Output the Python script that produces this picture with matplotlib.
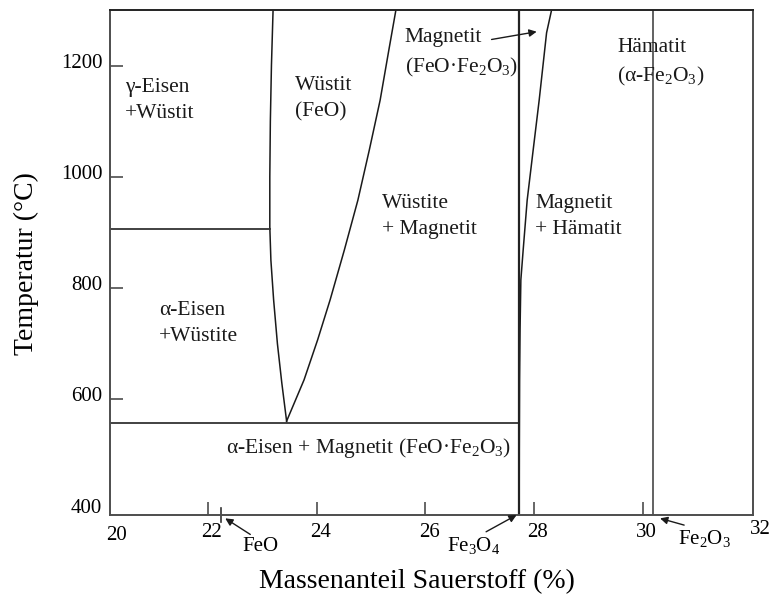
import matplotlib.pyplot as plt
import matplotlib.transforms as mtransforms

plt.rcParams['font.family'] = 'Liberation Serif'
plt.rcParams['mathtext.fontset'] = 'custom'
plt.rcParams['mathtext.rm'] = 'Liberation Serif'
plt.rcParams['mathtext.it'] = 'Liberation Serif:italic'

# Phasengrenzen im System Fe-O: (Massenanteil O in %, Temperatur in °C)
wuestit_links_x = [23.20, 23.17, 23.15, 23.14, 23.14, 23.16, 23.21, 23.28, 23.36, 23.45]
wuestit_links_t = [1300, 1200, 1100, 1000, 910, 850, 779, 700, 630, 560]
wuestit_rechts_x = [23.45, 23.77, 24.02, 24.25, 24.51, 24.76, 24.97, 25.17, 25.33, 25.46]
wuestit_rechts_t = [561, 635, 707, 779, 868, 958, 1048, 1138, 1228, 1300]
magnetit_rechts_x = [27.728, 27.730, 27.735, 27.744, 27.759, 27.801, 27.875, 27.985,
                     28.096, 28.232, 28.324]
magnetit_rechts_t = [392, 509, 635, 725, 815, 868, 958, 1048, 1138, 1259, 1300]

t_gamma_alpha = 907      # gamma/alpha-Eisen-Grenze
t_eutektoid = 557        # Zerfall des Wüstits
x_feo = 22.25
x_fe3o4 = 27.73
x_fe2o3 = 30.19

x_ticks = [22, 24, 26, 28, 30]
y_ticks = [400, 600, 800, 1000, 1200]

fig = plt.figure(figsize=(7.72, 5.99), dpi=100)
ax = fig.add_axes([0.1425, 0.1402, 0.8329, 0.8431])
ax.set_xlim(20.2, 32.03)
ax.set_ylim(392, 1300)

line_kw = dict(color='#1a1a1a', lw=1.1)
ax.plot(wuestit_links_x, wuestit_links_t, **line_kw)
ax.plot(wuestit_rechts_x, wuestit_rechts_t, **line_kw)
ax.plot(magnetit_rechts_x, magnetit_rechts_t, **line_kw)
ax.plot([20.2, 23.14], [t_gamma_alpha, t_gamma_alpha], color='#333333', lw=1.3)
ax.plot([20.2, x_fe3o4], [t_eutektoid, t_eutektoid], color='#333333', lw=1.3)
ax.axvline(x_fe3o4, color='#222222', lw=1.6)
ax.axvline(x_fe2o3, color='#555555', lw=1.3)

# Spines und Ticks
for s in ax.spines.values():
    s.set_color('#4d4d4d')
    s.set_linewidth(1.4)
ax.spines['top'].set_color('#222222')

ax.set_xticks(x_ticks)
ax.set_xticklabels([str(v) for v in x_ticks])
ax.set_yticks(y_ticks)
ax.set_yticklabels([str(v) for v in y_ticks])
ax.tick_params(axis='both', direction='in', length=9.4, width=1.2, color='#4d4d4d',
               labelsize=15, top=False, right=False)
ax.tick_params(axis='x', pad=6)
ax.tick_params(axis='y', pad=5.5)
ax.yaxis.get_major_ticks()[0].tick1line.set_visible(False)

dx = mtransforms.ScaledTranslation(4 / 100, 0, fig.dpi_scale_trans)
for lbl in ax.get_xticklabels():
    lbl.set_transform(lbl.get_transform() + dx)
dy = mtransforms.ScaledTranslation(0, 5 / 100, fig.dpi_scale_trans)
for lbl in ax.get_yticklabels():
    lbl.set_transform(lbl.get_transform() + dy)

tick_txt = dict(fontsize=15, ha='center', va='top',
                transform=mtransforms.blended_transform_factory(ax.transData, ax.transAxes))
ax.text(20.32, -0.022, '20', clip_on=False, **tick_txt)
ax.text(32.16, -0.009, '32', clip_on=False, **tick_txt)

ax.set_xlabel('Massenanteil Sauerstoff (%)', fontsize=20)
ax.xaxis.set_label_coords(0.477, -0.108)
ax.set_ylabel('Temperatur (°C)', fontsize=20)
ax.yaxis.set_label_coords(-0.110, 0.497)

# Beschriftung der Phasenfelder
lab = dict(fontsize=15.5, ha='left', va='center', linespacing=1.5, color='#1a1a1a')
ax.text(20.47, 1138, 'γ-Eisen\n+Wüstit', **lab)
ax.text(23.60, 1141, 'Wüstit\n(FeO)', **lab)
ax.text(25.20, 928, 'Wüstite\n+ Magnetit', **lab)
ax.text(25.62, 1222, 'Magnetit\n(FeO·Fe$_2$O$_3$)', **lab)
ax.text(28.02, 928, 'Magnetit\n+ Hämatit', **lab)
ax.text(29.53, 1205, 'Hämatit\n(α-Fe$_2$O$_3$)', **lab)
ax.text(21.10, 737, 'α-Eisen\n+Wüstite', **lab)
ax.text(22.34, 512, 'α-Eisen + Magnetit (FeO·Fe$_2$O$_3$)', **lab)

# Pfeile auf die Verbindungen
arrow = dict(arrowstyle='-|>', color='#1a1a1a', lw=1.0, mutation_scale=11,
             shrinkA=0, shrinkB=0)
ax.annotate('', xy=(28.05, 1261), xytext=(27.22, 1247), arrowprops=arrow)
ax.plot([x_feo, x_feo], [380, 405], color='#333333', lw=1.2, clip_on=False)
ax.annotate('FeO', xy=(x_feo + 0.07, 386), xytext=(22.96, 335), fontsize=15,
            ha='center', va='center', annotation_clip=False,
            arrowprops=dict(arrow, relpos=(0.35, 1.0)))
ax.annotate('Fe$_3$O$_4$', xy=(x_fe3o4 - 0.05, 392), xytext=(26.88, 338), fontsize=15,
            ha='center', va='center', annotation_clip=False,
            arrowprops=dict(arrow, relpos=(0.65, 1.0)))
ax.annotate('Fe$_2$O$_3$', xy=(x_fe2o3 + 0.13, 386), xytext=(31.14, 350), fontsize=15,
            ha='center', va='center', annotation_clip=False,
            arrowprops=dict(arrow, relpos=(0.3, 1.0)))

fig.savefig('out.png', dpi=100)
